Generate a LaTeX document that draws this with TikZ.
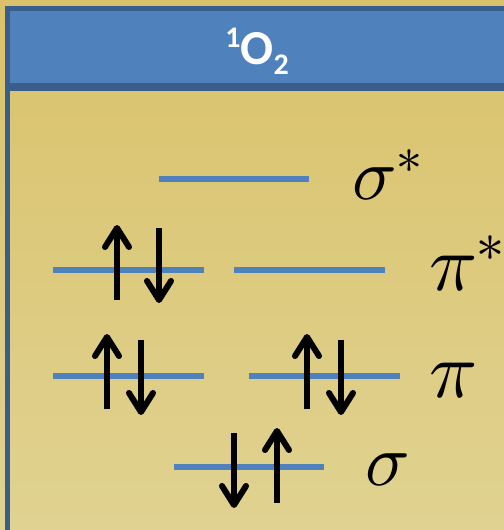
\documentclass[tikz,border=0pt]{standalone}
\usepackage{fontspec}
\usepackage{unicode-math}
\setmathfont{Latin Modern Math}
\newfontfamily\hdrfont{Carlito}
\usetikzlibrary{arrows.meta}
\definecolor{goldtop}{RGB}{217,194,106}
\definecolor{goldmid}{RGB}{196,166,70}
\definecolor{goldbot}{RGB}{224,210,145}
\definecolor{hdrblue}{RGB}{79,129,189}
\definecolor{hdrdark}{RGB}{58,94,140}
\definecolor{levelblue}{RGB}{79,129,189}
\tikzset{
  level/.style={line width=5.5bp, levelblue},
  spin/.style={line width=6bp, black, -{Straight Barb[length=19bp,width=24bp,round]}},
  mlabel/.style={anchor=base west, inner sep=0pt, font=\fontsize{74}{74}\selectfont},
  plabel/.style={anchor=base west, inner sep=0pt, font=\fontsize{80}{80}\selectfont}
}
\begin{document}
\begin{tikzpicture}[x=1bp,y=-1bp]
\useasboundingbox (0,0) rectangle (504,530);
% background
\shade[top color=goldtop, middle color=goldmid, bottom color=goldbot] (0,0) rectangle (504,530);
% header
\fill[hdrdark] (5,6) rectangle (504,91);
\fill[hdrblue] (10,11) rectangle (504,83);
\fill[hdrdark] (5,91) rectangle (10,530);
\node[anchor=base, inner sep=0pt, text=white] (title) at (257,65)
  {\hdrfont\bfseries\fontsize{49}{49}\selectfont\raisebox{17bp}{\fontsize{30}{30}\selectfont 1}O\raisebox{-10bp}{\fontsize{30}{30}\selectfont 2}};
% levels
\coordinate (ss1) at (159,179); \coordinate (ss2) at (309,179);
\coordinate (psl1) at (53,270); \coordinate (psl2) at (204,270);
\coordinate (psr1) at (234,270); \coordinate (psr2) at (385,270);
\coordinate (pl1) at (53,376); \coordinate (pl2) at (204,376);
\coordinate (pr1) at (249,376); \coordinate (pr2) at (400,376);
\coordinate (s1) at (174,467); \coordinate (s2) at (324,467);
\draw[level] (ss1) -- (ss2);
\draw[level] (psl1) -- (psl2);
\draw[level] (psr1) -- (psr2);
\draw[level] (pl1) -- (pl2);
\draw[level] (pr1) -- (pr2);
\draw[level] (s1) -- (s2);
% spins
\coordinate (a1) at (117,300); \coordinate (a1e) at (117,225);
\coordinate (a2) at (159,228); \coordinate (a2e) at (159,303);
\coordinate (b1) at (107,409); \coordinate (b1e) at (107,334);
\coordinate (b2) at (141,340); \coordinate (b2e) at (141,415);
\coordinate (c1) at (307,409); \coordinate (c1e) at (307,334);
\coordinate (c2) at (341,340); \coordinate (c2e) at (341,415);
\coordinate (d1) at (234,433); \coordinate (d1e) at (234,508);
\coordinate (d2) at (277,503); \coordinate (d2e) at (277,428);
\draw[spin] (a1) -- (a1e);
\draw[spin] (a2) -- (a2e);
\draw[spin] (b1) -- (b1e);
\draw[spin] (b2) -- (b2e);
\draw[spin] (c1) -- (c1e);
\draw[spin] (c2) -- (c2e);
\draw[spin] (d1) -- (d1e);
\draw[spin] (d2) -- (d2e);
% labels
\node[mlabel] (lss) at (352,200) {$\sigma^*$};
\node[plabel] (lps) at (429,290) {$\pi^*$};
\node[plabel] (lp) at (429,397) {$\pi$};
\node[mlabel] (ls) at (365,485) {$\sigma$};
\end{tikzpicture}
\end{document}
